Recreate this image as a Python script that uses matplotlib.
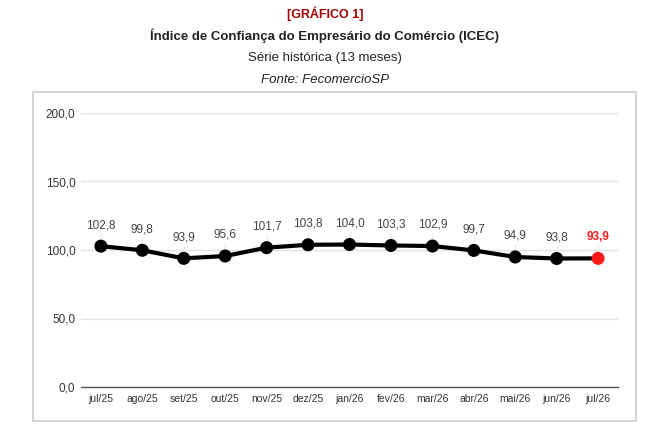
import matplotlib
matplotlib.use("Agg")
import matplotlib.pyplot as plt
from matplotlib.patches import Rectangle

months = ["jul/25", "ago/25", "set/25", "out/25", "nov/25", "dez/25", "jan/26",
          "fev/26", "mar/26", "abr/26", "mai/26", "jun/26", "jul/26"]
values = [102.8, 99.8, 93.9, 95.6, 101.7, 103.8, 104.0, 103.3, 102.9, 99.7, 94.9, 93.8, 93.9]
yticks = [0, 50, 100, 150, 200]

plt.rcParams['font.family'] = ['Liberation Sans', 'DejaVu Sans']

fig = plt.figure(figsize=(6.5, 4.33), dpi=100)
W, H = 650, 433

def fx(px): return px / W
def fy(py): return 1 - py / H

# titles
fig.text(0.5, fy(14), "[GRÁFICO 1]", ha="center", va="center", color="#a50000",
         fontsize=9, fontweight="bold")
fig.text(0.5, fy(36), "Índice de Confiança do Empresário do Comércio (ICEC)", ha="center",
         va="center", color="#222222", fontsize=9.5, fontweight="bold")
fig.text(0.5, fy(58), "Série histórica (13 meses)", ha="center", va="center",
         color="#222222", fontsize=9.5)
fig.text(0.5, fy(80), "Fonte: FecomercioSP", ha="center", va="center",
         color="#222222", fontsize=9.5, style="italic")

# outer box
fig.patches.append(Rectangle((fx(33), fy(421)), fx(636) - fx(33), fy(92) - fy(421),
                             transform=fig.transFigure, fill=False,
                             edgecolor="#cccccc", linewidth=1.2))

ax = fig.add_axes([fx(81), fy(387), fx(618) - fx(81), fy(113) - fy(387)])
x = list(range(len(months)))
ax.set_xlim(-0.48, len(months) - 1 + 0.48)
ax.set_ylim(0, 200)
ax.set_yticks(yticks)
ax.set_yticklabels([f"{v:.1f}".replace(".", ",") for v in yticks], fontsize=8.5, color="#333333")
ax.set_xticks(x)
ax.set_xticklabels(months, fontsize=7.5, color="#333333")
ax.tick_params(length=0, pad=5)
ax.tick_params(axis="y", pad=4)
for s in ["top", "right", "left"]:
    ax.spines[s].set_visible(False)
ax.spines["bottom"].set_color("#555555")
ax.spines["bottom"].set_linewidth(1)
ax.grid(axis="y", color="#e3e3e3", linewidth=1)
ax.set_axisbelow(True)

ax.plot(x, values, color="black", linewidth=3, zorder=3)
colors = ["black"] * (len(values) - 1) + ["#ff1a1a"]
ax.scatter(x, values, s=70, c=colors, zorder=4)

for i, v in enumerate(values):
    last = i == len(values) - 1
    ax.plot([i, i], [v + 2, v + 9], color="#e8e8e8", linewidth=0.8, zorder=2)
    ax.text(i, v + 11, f"{v:.1f}".replace(".", ","), ha="center", va="bottom",
            fontsize=8.5, color="#ff1a1a" if last else "#444444",
            fontweight="bold" if last else "normal")

fig.savefig("out.png", dpi=100)
